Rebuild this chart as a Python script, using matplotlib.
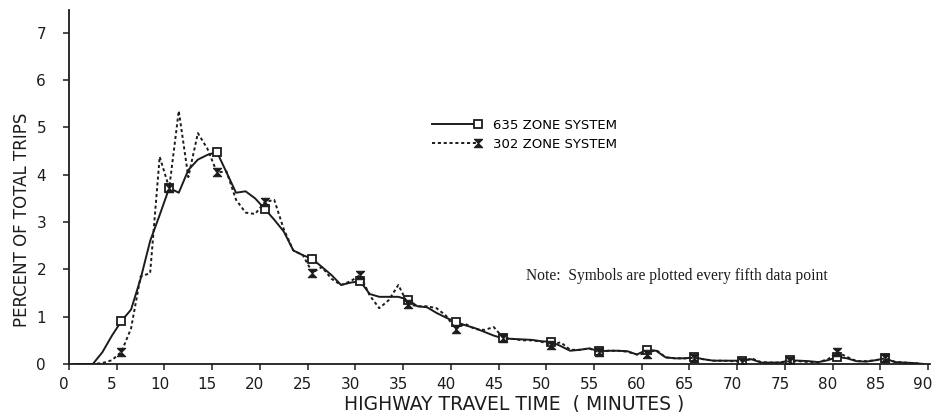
import numpy as np
import matplotlib
matplotlib.use("Agg")
import matplotlib.pyplot as plt
from matplotlib.legend_handler import HandlerLine2D
from matplotlib.transforms import ScaledTranslation

# trip length distribution, percent of trips per one-minute bin (bin midpoints)
minutes = np.arange(90) + 0.5

zones_635 = [
    0.00, 0.00, 0.00, 0.25, 0.60, 0.91, 1.15, 1.80, 2.60, 3.15,
    3.72, 3.62, 4.10, 4.32, 4.42, 4.48, 4.05, 3.62, 3.65, 3.50,
    3.28, 3.05, 2.80, 2.40, 2.30, 2.22, 2.05, 1.88, 1.67, 1.72,
    1.75, 1.48, 1.42, 1.42, 1.42, 1.36, 1.22, 1.20, 1.08, 0.98,
    0.89, 0.82, 0.76, 0.68, 0.60, 0.54, 0.53, 0.52, 0.51, 0.48,
    0.47, 0.38, 0.28, 0.30, 0.33, 0.27, 0.28, 0.28, 0.27, 0.20,
    0.30, 0.28, 0.14, 0.12, 0.12, 0.14, 0.10, 0.07, 0.07, 0.07,
    0.07, 0.10, 0.03, 0.03, 0.03, 0.08, 0.07, 0.06, 0.04, 0.08,
    0.15, 0.12, 0.06, 0.05, 0.08, 0.12, 0.04, 0.03, 0.02, 0.00,
]

zones_302 = [
    0.00, 0.00, 0.00, 0.02, 0.08, 0.26, 0.75, 1.85, 1.92, 4.38,
    3.72, 5.35, 3.95, 4.88, 4.55, 4.05, 4.07, 3.47, 3.20, 3.17,
    3.42, 3.47, 2.85, 2.40, 2.30, 1.93, 2.05, 1.80, 1.67, 1.75,
    1.88, 1.45, 1.18, 1.35, 1.67, 1.27, 1.22, 1.22, 1.18, 1.02,
    0.74, 0.85, 0.74, 0.72, 0.78, 0.55, 0.53, 0.50, 0.50, 0.47,
    0.40, 0.46, 0.30, 0.30, 0.33, 0.25, 0.28, 0.28, 0.26, 0.20,
    0.22, 0.30, 0.14, 0.12, 0.12, 0.13, 0.10, 0.07, 0.07, 0.06,
    0.05, 0.12, 0.04, 0.03, 0.03, 0.06, 0.06, 0.04, 0.04, 0.10,
    0.25, 0.15, 0.06, 0.06, 0.08, 0.12, 0.05, 0.03, 0.02, 0.00,
]

x_ticks = list(range(0, 91, 5))
y_ticks = list(range(0, 8))

ink = "#1c1c1c"

# filled hourglass symbol for the 302 zone curve
hourglass = [(-1, 1), (1, 1), (-1, -1), (1, -1), (-1, 1)]


class EndMarkerHandler(HandlerLine2D):
    # put the legend symbol at the right end of the sample line
    def create_artists(self, *args, **kwargs):
        artists = super().create_artists(*args, **kwargs)
        for a in artists:
            a.set_markevery([2])
        return artists


fig = plt.figure(figsize=(9.4, 4.12), dpi=100)
ax = fig.add_axes([0.0734, 0.1165, 0.916, 0.859])

l1, = ax.plot(minutes, zones_635, color=ink, lw=1.4, ls="-",
              marker="s", ms=5.5, mfc="white", mec=ink, mew=1.3,
              markevery=(5, 5), label="635 ZONE SYSTEM")
l2, = ax.plot(minutes, zones_302, color=ink, lw=1.4, ls=(0, (1.6, 1.4)),
              marker=hourglass, ms=6, mfc=ink, mec=ink, mew=0.8,
              markevery=(5, 5), label="302 ZONE SYSTEM")

ax.set_xlim(0, 90.2)
ax.set_ylim(0, 7.48)
ax.set_xticks(x_ticks)
ax.set_yticks(y_ticks)
ax.spines["top"].set_visible(False)
ax.spines["right"].set_visible(False)
for s in ("left", "bottom"):
    ax.spines[s].set_color(ink)
    ax.spines[s].set_linewidth(1.3)
ax.tick_params(axis="both", direction="out", length=4, width=1.1, colors=ink,
               labelsize=11)
ax.tick_params(axis="y", pad=12.5)
ax.tick_params(axis="x", pad=5)
shift = ScaledTranslation(-5 / 100, 0, fig.dpi_scale_trans)
for lab in ax.get_xticklabels():
    lab.set_transform(lab.get_transform() + shift)

fig.text(514 / 940, 3 / 412, "HIGHWAY TRAVEL TIME  ( MINUTES )",
         fontsize=13.5, color=ink, ha="center", va="baseline")
fig.text(22 / 940, 1 - 220 / 412, "PERCENT OF TOTAL TRIPS",
         fontsize=12, color=ink, ha="center", va="center", rotation=90)

leg = ax.legend(handles=[l1, l2], loc="upper left",
                bbox_to_anchor=(0.447, 0.74), bbox_transform=fig.transFigure,
                frameon=False, numpoints=1, handlelength=3.5, handletextpad=1.1,
                labelspacing=0.45, prop={"size": 9.5},
                handler_map={l1: EndMarkerHandler(), l2: EndMarkerHandler()})

ax.text(526 / 940, 1 - 276 / 412,
        "Note:  Symbols are plotted every fifth data point",
        transform=fig.transFigure, family="Liberation Serif", fontsize=11.2,
        color=ink, va="center", ha="left")

fig.savefig("out.png", dpi=100)
